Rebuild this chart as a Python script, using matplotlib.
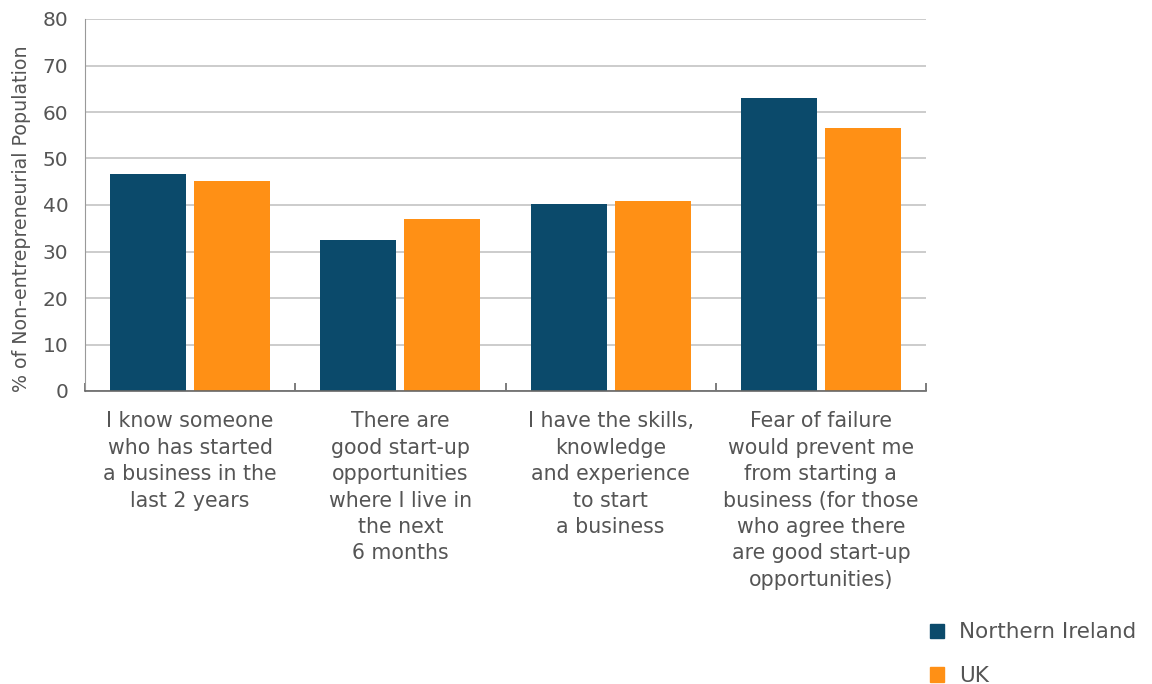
import numpy as np
import matplotlib.pyplot as plt
from matplotlib.patches import Patch

categories = [
    "I know someone\nwho has started\na business in the\nlast 2 years",
    "There are\ngood start-up\nopportunities\nwhere I live in\nthe next\n6 months",
    "I have the skills,\nknowledge\nand experience\nto start\na business",
    "Fear of failure\nwould prevent me\nfrom starting a\nbusiness (for those\nwho agree there\nare good start-up\nopportunities)",
]
northern_ireland = [46.7, 32.5, 40.2, 63.0]
uk = [45.2, 37.0, 40.9, 56.6]

ni_color = "#0b4a6b"
uk_color = "#ff9015"
text_color = "#555555"

plt.rcParams["font.family"] = ["DejaVu Sans"]

fig = plt.figure(figsize=(11.52, 6.84), dpi=100)
ax = fig.add_axes([85 / 1152, 1 - 391 / 684, 841 / 1152, 372 / 684])

x = np.arange(len(categories))
w = 0.362
ax.bar(x - 0.2, northern_ireland, w, color=ni_color, zorder=3)
ax.bar(x + 0.2, uk, w, color=uk_color, zorder=3)

ax.set_xlim(-0.5, len(categories) - 0.5)
ax.set_ylim(0, 80)
ax.set_yticks(range(0, 81, 10))
ax.yaxis.grid(True, color="#c8c8c8", linewidth=1.3, zorder=0)
ax.tick_params(axis="y", length=0, labelsize=14.5, labelcolor=text_color, pad=12)

# tick marks sit on the category boundaries, labels at the centres
ax.set_xticks(np.arange(len(categories) + 1) - 0.5)
ax.set_xticklabels([])
ax.tick_params(axis="x", direction="in", length=6, color="#666666", width=1.2)
for xi, label in zip(x, categories):
    ax.text(xi, -4.4, label, ha="center", va="top", fontsize=14.8,
            color=text_color, linespacing=1.4)

for side in ["top", "right"]:
    ax.spines[side].set_visible(False)
ax.spines["left"].set_color("#999999")
ax.spines["bottom"].set_color("#666666")
ax.spines["bottom"].set_linewidth(1.2)
ax.spines["bottom"].set_zorder(4)

ax.set_ylabel("% of Non-entrepreneurial Population", fontsize=13.7,
              color=text_color)
ax.yaxis.set_label_coords(-0.064, 0.462)

handles = [Patch(color=ni_color, label="Northern Ireland"),
           Patch(color=uk_color, label="UK")]
fig.legend(handles=handles, loc="upper left", bbox_to_anchor=(911 / 1152, 1 - 603 / 684),
           frameon=False, fontsize=15.5, labelcolor=text_color,
           handlelength=0.65, handleheight=0.65, handletextpad=0.7,
           labelspacing=1.1)

fig.savefig("out.png", dpi=100)
